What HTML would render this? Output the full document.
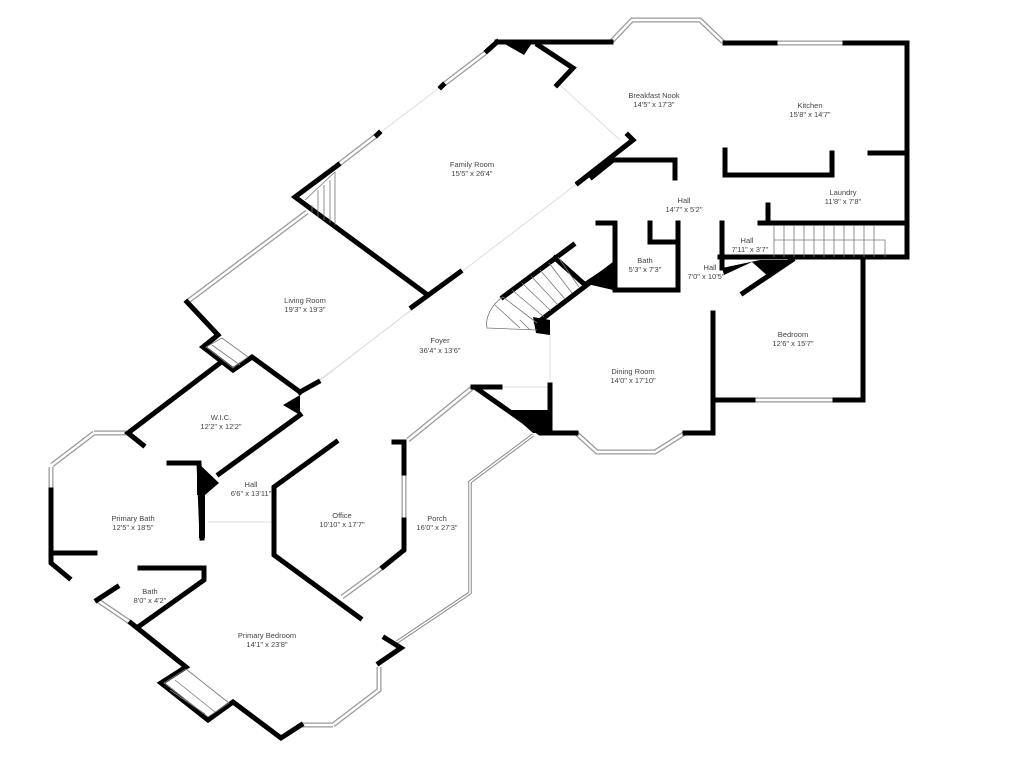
<!DOCTYPE html>
<html><head><meta charset="utf-8"><style>
html,body{margin:0;padding:0;background:#fff;}
svg{display:block;}
text{font-family:"Liberation Sans",sans-serif;font-size:7.5px;fill:#444;text-anchor:middle;}
.w{stroke:#000;stroke-width:5;fill:none;stroke-linecap:square;stroke-linejoin:miter;}
.win{stroke:#999;stroke-width:5;fill:none;}
.wi{stroke:#fff;stroke-width:2.5;fill:none;}
.f{stroke:#ddd;stroke-width:1;fill:none;}
.t{stroke:#777;stroke-width:0.8;fill:none;}
.b{fill:#000;}
</style></head><body>
<svg width="1024" height="768" viewBox="0 0 1024 768" xmlns="http://www.w3.org/2000/svg">
<g>
<path class="win" d="M611,42 L632,20 L700,20 L723,42 M775,43 L845,43 M485,53 L443,85 M377,135 L338,165 M307,212 L187,302 M100,433 L128,433 M52,465 L94,433 M94,433 L129,433 M51,467 L51,490 M131,623 L97,600 M301,725 L333,725 M333,725 L379,690 L379,667 M342,597 L383,567 M404,473 L404,520 M408,440 L472,388 M576,433 L597,452 L655,452 L685,433 M753,400 L835,400"/>
<path class="wi" d="M611,42 L632,20 L700,20 L723,42 M775,43 L845,43 M485,53 L443,85 M377,135 L338,165 M307,212 L187,302 M100,433 L128,433 M52,465 L94,433 M94,433 L129,433 M51,467 L51,490 M131,623 L97,600 M301,725 L333,725 M333,725 L379,690 L379,667 M342,597 L383,567 M404,473 L404,520 M408,440 L472,388 M576,433 L597,452 L655,452 L685,433 M753,400 L835,400"/>
</g>
<path class="f" d="M318,382 L460,272 M300,395 L578,183 M208,522 L272,522 M560,85 L620,140 M550,335 L550,380 M473,387 L550,387 M443,85 L377,135"/>
<path d="M533,435 L470,482 L470,593 L397,642" stroke="#888" stroke-width="3.5" fill="none"/>
<path d="M533,435 L470,482 L470,593 L397,642" stroke="#fff" stroke-width="1.5" fill="none"/>
<path class="w" d="M497,42 L611,42 M725,43 L775,43 M845,43 L907,43 L907,257 L720,257 M863,257 L863,400 L835,400 M753,400 L713,400 M713,313 L713,433 L685,433 M573,433 L550,433 L550,385"/>
<path class="w" d="M497,42 L487,51 M441,87 L443,85 M377,135 L379,133 M338,165 L295,197 L425,293 M412,307 L460,272"/>
<path class="w" d="M538,45 L573,68 L557,85"/>
<path class="w" d="M578,183 L633,140 L628,135 M592,177 L613,160 L675,160 L675,178"/>
<path class="w" d="M725,150 L725,175 L832,175 L832,153 M870,153 L907,153 M768,205 L768,223 M760,223 L907,223 M722,223 L722,268"/>
<path class="w" d="M598,223 L615,223 L615,290 L678,290 L678,223 M650,223 L650,242 L677,242"/>
<path class="w" d="M503,297 L573,245 M555,258 L583,283 M613,265 L537,323 M792,260 L743,293"/>
<path class="w" d="M187,302 L218,335 L203,347 L233,370 L252,357 L300,392 M300,392 L318,382 M220,363 L128,433 L143,445 M300,415 L219,474"/>
<path class="w" d="M169,463 L199,463 L202,538 M54,553 L95,553 M51,490 L51,563 L69,578 M140,568 L204,568 L204,580 L138,627 M97,600 L117,587"/>
<path class="w" d="M131,623 L186,667 L161,683 L208,720 L233,702 L281,738 L301,725 M385,638 L401,648 L379,663"/>
<path class="w" d="M336,442 L274,487 L274,555 L360,618 M383,567 L404,550 L404,520 M404,473 L404,442 L394,442"/>
<path class="w" d="M476,388 L540,433 L576,433 M473,387 L500,387"/>
<polygon class="b" points="503,43 532,43 524,55"/>
<polygon class="b" points="583,283 613,263 613,290"/>
<polygon class="b" points="533,317 550,320 550,335 536,333"/>
<polygon class="b" points="722,268 760,260 792,260 770,278 752,262 724,275"/>
<polygon class="b" points="507,410 550,410 550,433 533,433"/>
<polygon class="b" points="283,405 300,395 300,415"/>
<polygon class="b" points="197,462 219,483 205,495 197,495"/>
<polygon class="b" points="199,470 205,470 205,538 199,538"/>
<g class="t">
<path d="M774,225 L774,257 M784,225 L784,257 M794,225 L794,257 M804,225 L804,257 M814,225 L814,257 M824,225 L824,257 M834,225 L834,257 M844,225 L844,257 M854,225 L854,257 M864,225 L864,257 M874,225 L874,257 M774,240 L885,240 L885,257"/>
<path d="M503,297 L537,323 M512,290 L544,317 M522,283 L551,311 M531,276 L558,305 M540,270 L565,299 M549,263 L572,293 M558,257 L579,287 M503,297 C490,305 485,320 487,328 L537,330 M495,305 L520,328 M520,320 L530,330"/>
<path d="M305,200 L335,172 L335,225 M312,205 L312,212 M318,190 L318,217 M324,185 L324,220 M330,180 L330,223"/>
<path d="M206,347 L222,338 L248,357 L233,368 Z M212,345 L240,365"/>
<path d="M164,683 L186,669 L229,703 L208,717 Z M175,680 L215,712 M170,690 L205,714 M190,672 L225,700"/>
</g>
<text x="654" y="98">Breakfast Nook</text><text x="654" y="107">14'5" x 17'3"</text>
<text x="810" y="108">Kitchen</text><text x="810" y="117">15'8" x 14'7"</text>
<text x="472" y="167">Family Room</text><text x="472" y="176">15'5" x 26'4"</text>
<text x="843" y="195">Laundry</text><text x="843" y="204">11'8" x 7'8"</text>
<text x="684" y="203">Hall</text><text x="684" y="212">14'7" x 5'2"</text>
<text x="747" y="243">Hall</text><text x="750" y="252">7'11" x 3'7"</text>
<text x="645" y="263">Bath</text><text x="645" y="272">5'3" x 7'3"</text>
<text x="710" y="270">Hall</text><text x="706" y="279">7'0" x 10'5"</text>
<text x="305" y="303">Living Room</text><text x="305" y="312">19'3" x 19'3"</text>
<text x="793" y="337">Bedroom</text><text x="793" y="346">12'6" x 15'7"</text>
<text x="440" y="343">Foyer</text><text x="440" y="353">36'4" x 13'6"</text>
<text x="633" y="374">Dining Room</text><text x="633" y="383">14'0" x 17'10"</text>
<text x="221" y="420">W.I.C.</text><text x="221" y="429">12'2" x 12'2"</text>
<text x="251" y="487">Hall</text><text x="251" y="496">6'6" x 13'11"</text>
<text x="342" y="518">Office</text><text x="342" y="527">10'10" x 17'7"</text>
<text x="437" y="521">Porch</text><text x="437" y="530">16'0" x 27'3"</text>
<text x="133" y="521">Primary Bath</text><text x="133" y="530">12'5" x 18'5"</text>
<text x="150" y="594">Bath</text><text x="150" y="603">8'0" x 4'2"</text>
<text x="267" y="638">Primary Bedroom</text><text x="267" y="647">14'1" x 23'8"</text>
</svg>
</body></html>
